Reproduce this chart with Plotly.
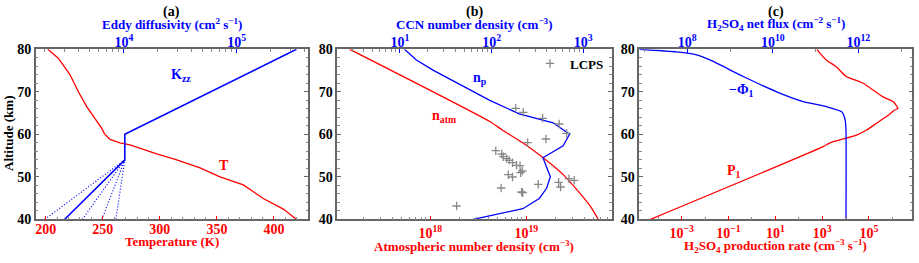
import plotly.graph_objects as go

# ---------------- Panel (a) ----------------
alt_T = [80, 77.9, 74.0, 70.0, 66.5, 63.8, 61.4, 60.1, 58.8, 58.0, 57.5, 55.4, 54.0, 52.1, 50.0, 48.1, 44.9, 42.4, 40.0]
temp_K = [201.8, 211, 221.3, 228.6, 235.9, 243.2, 249.1, 251.5, 256.3, 265, 273.8, 297.2, 314.8, 335.2, 352.7, 373.1, 390.6, 408.2, 419.5]

alt_kzz = [40, 54, 60, 80]
kzz_nominal = [3.0e3, 1.02e4, 1.02e4, 3.37e5]
alt_kzz_fan = [40, 54]
kzz_fan_bottom = [2.0e3, 4.3e3, 6.4e3, 8.5e3]
kzz_fan_top = 1.02e4

# ---------------- Panel (b) ----------------
alt_natm = [80, 63.0, 61.0, 57.9, 54.4, 50.4, 46.1, 43.0, 40.0]
n_atm = [1.445e17, 4.17e18, 5.62e18, 9.33e18, 1.51e19, 2.45e19, 3.63e19, 4.68e19, 5.62e19]

alt_np = [80, 77.5, 75.1, 68.0, 64.8, 62.7, 60.0, 57.3, 54.5, 50.0, 47.3, 44.9, 42.5, 40.0]
n_p = [11.2, 15.1, 22.9, 95.5, 200, 468, 708, 603, 363, 437, 398, 331, 219, 63.1]

alt_lcps = [66.12, 65.18, 63.76, 62.42, 60.24, 58.02, 58.89, 56.14, 55.36, 54.73, 54.26, 53.88, 53.32,
            52.71, 52.61, 51.36, 50.96, 50.49, 49.95, 47.36, 46.42, 46.26, 48.24, 48.71, 47.6, 49.55, 49.18, 43.13]
n_lcps = [183, 221, 360, 546, 658, 247, 391, 111, 129, 134, 146, 155, 169,
          187, 204, 216, 207, 152, 169, 127, 212, 218, 322, 538, 565, 697, 796, 41.5]

# ---------------- Panel (c) ----------------
alt_P1 = [40, 57.1, 58.0, 59.8, 61.0, 62.6, 64.5, 65.7, 66.1, 67.7, 68.8, 72.0, 73.6, 75.9, 77.5, 79.1, 80]
P1 = [4.68e-5, 1.10e3, 2.14e3, 2.95e4, 7.94e4, 2.09e5, 6.61e5, 1.26e6, 1.74e6, 1.07e6, 3.98e5,
      5.62e4, 1.07e4, 3.98e3, 1.51e3, 794, 603]

alt_phi = [80, 79.4, 78.7, 77.5, 73.6, 70.0, 67.7, 66.5, 65.3, 63.4, 61.0, 40]
phi1 = [7.6e6, 5.62e7, 1.66e8, 3.39e8, 2.04e9, 1.23e10, 5.13e10, 1.82e11, 4.07e11, 4.9e11, 5.13e11, 5.13e11]

# ---------------- Text ----------------
panel_titles = ["(a)", "(b)", "(c)"]
bottom_titles = ["Temperature (K)", "Atmospheric number density (cm<sup>−3</sup>)",
                 "H<sub>2</sub>SO<sub>4</sub> production rate (cm<sup>−3</sup> s<sup>−1</sup>)"]
top_titles = ["Eddy diffusivity (cm<sup>2</sup> s<sup>−1</sup>)", "CCN number density (cm<sup>−3</sup>)",
              "H<sub>2</sub>SO<sub>4</sub> net flux (cm<sup>−2</sup> s<sup>−1</sup>)"]

RED = "#ff0000"
BLUE = "#0000ff"
GRAY = "#888888"
FRAME = "#666666"
FONT = "Liberation Serif, Times New Roman, serif"

W, H = 919, 263
px = lambda x: x / W
py = lambda y: 1 - y / H
YDOM = [py(219.3), py(49.3)]
DOMS = [[35.7, 308], [337.3, 611.7], [639.3, 912.3]]
DOM_A, DOM_B, DOM_C = [[px(a), px(b)] for a, b in DOMS]
BOTTOM_TITLE_Y = [241, 246, 246]


def bfont(size, color):
    return dict(family=FONT, size=size, color=color, weight="bold")


def log_minor(lo, hi, subs=range(2, 10)):
    vals = []
    for e in range(lo, hi + 1):
        for s in subs:
            vals.append(s * 10.0 ** e)
    return vals


fig = go.Figure()

# Panel (a)
fig.add_trace(go.Scatter(x=temp_K, y=alt_T, mode="lines", line=dict(color=RED, width=1.3),
                         xaxis="x", yaxis="y", showlegend=False))
for v in kzz_fan_bottom:
    fig.add_trace(go.Scatter(x=[v, kzz_fan_top], y=alt_kzz_fan, mode="lines",
                             line=dict(color=BLUE, width=1.2, dash="1px,2px"),
                             xaxis="x2", yaxis="y", showlegend=False))
fig.add_trace(go.Scatter(x=kzz_nominal, y=alt_kzz, mode="lines", line=dict(color=BLUE, width=1.6),
                         xaxis="x2", yaxis="y", showlegend=False))

# Panel (b)
fig.add_trace(go.Scatter(x=n_atm, y=alt_natm, mode="lines", line=dict(color=RED, width=1.3, shape="spline", smoothing=0.6),
                         xaxis="x3", yaxis="y2", showlegend=False))
fig.add_trace(go.Scatter(x=n_p, y=alt_np, mode="lines", line=dict(color=BLUE, width=1.3),
                         xaxis="x4", yaxis="y2", showlegend=False))
fig.add_trace(go.Scatter(x=n_lcps, y=alt_lcps, mode="markers", name="LCPS",
                         marker=dict(symbol="cross-thin", size=6, line=dict(width=1.3, color=GRAY)),
                         xaxis="x4", yaxis="y2", showlegend=True))

# Panel (c)
fig.add_trace(go.Scatter(x=P1, y=alt_P1, mode="lines", line=dict(color=RED, width=1.3, shape="spline", smoothing=0.5),
                         xaxis="x5", yaxis="y3", showlegend=False))
fig.add_trace(go.Scatter(x=phi1, y=alt_phi, mode="lines", line=dict(color=BLUE, width=1.3, shape="spline", smoothing=0.5),
                         xaxis="x6", yaxis="y3", showlegend=False))


def bottom_axis(domain, anchor, rng, typ="linear", tickvals=None, ticktext=None, minor=None, standoff=-4):
    d = dict(domain=domain, anchor=anchor, range=rng, type=typ, side="bottom", automargin=False,
             showline=True, linecolor=FRAME, linewidth=1.5, mirror=True,
             ticks="inside", ticklen=4, tickcolor=RED, tickwidth=1, ticklabelstandoff=standoff,
             tickfont=bfont(14, RED), showgrid=False, zeroline=False)
    if tickvals is not None:
        d.update(tickmode="array", tickvals=tickvals)
    if ticktext is not None:
        d.update(ticktext=ticktext)
    if minor is not None:
        d.update(minor=minor)
    return d


def top_axis(overlay, anchor, rng, tickvals, ticktext, minorvals):
    return dict(overlaying=overlay, anchor=anchor, side="top", type="log", range=rng, automargin=False,
                showline=True, linecolor=FRAME, linewidth=1.5,
                ticks="inside", ticklen=4, tickcolor=BLUE, tickwidth=1, ticklabelstandoff=-5,
                tickmode="array", tickvals=tickvals, ticktext=ticktext,
                tickfont=bfont(14, BLUE), showgrid=False, zeroline=False,
                minor=dict(ticks="inside", ticklen=2.5, tickcolor=GRAY, tickmode="array", tickvals=minorvals, showgrid=False))


def y_axis(anchor):
    return dict(domain=YDOM, anchor=anchor, range=[40, 80], tickmode="array", tickvals=[40, 50, 60, 70, 80],
                automargin=False,
                showline=True, linecolor=FRAME, linewidth=1.5, mirror="ticks",
                ticks="inside", ticklen=4, tickcolor=FRAME, tickwidth=1,
                tickfont=bfont(14, "black"), showgrid=False, zeroline=False,
                minor=dict(ticks="inside", ticklen=2.5, tickcolor=GRAY, dtick=2, tick0=40, showgrid=False))


sup = lambda e: "10<sup>%s</sup>" % e

layout = dict(
    width=W, height=H, autosize=False,
    margin=dict(l=0, r=0, t=0, b=0, autoexpand=False),
    paper_bgcolor="white", plot_bgcolor="white",
    font=dict(family=FONT),
    xaxis=bottom_axis(DOM_A, "y", [191.2, 429.8], tickvals=[200, 250, 300, 350, 400],
                      minor=dict(ticks="inside", ticklen=2.5, tickcolor=GRAY, dtick=10, tick0=200, showgrid=False)),
    xaxis2=top_axis("x", "y", [3.22, 5.63], [1e4, 1e5], [sup(4), sup(5)], log_minor(3, 5)),
    xaxis3=bottom_axis(DOM_B, "y2", [17.03, 19.89], typ="log",
                       tickvals=[1e18, 1e19], ticktext=[sup(18), sup(19)],
                       minor=dict(ticks="inside", ticklen=2.5, tickcolor=GRAY, tickmode="array",
                                  tickvals=log_minor(17, 19), showgrid=False), standoff=0),
    xaxis4=top_axis("x3", "y2", [0.316, 3.31], [10, 100, 1000], [sup(1), sup(2), sup(3)], log_minor(0, 3)),
    xaxis5=bottom_axis(DOM_C, "y3", [-4.81, 6.85],
                       typ="log", tickvals=[1e-3, 1e-1, 1e1, 1e3, 1e5],
                       ticktext=[sup("−3"), sup("−1"), sup(1), sup(3), sup(5)],
                       minor=dict(ticks="inside", ticklen=2.5, tickcolor=GRAY, tickmode="array",
                                  tickvals=[10.0 ** e for e in range(-4, 7, 2)], showgrid=False), standoff=0),
    xaxis6=top_axis("x5", "y3", [6.88, 13.26], [1e8, 1e10, 1e12], [sup(8), sup(10), sup(12)],
                    [10.0 ** e for e in range(7, 14, 2)]),
    yaxis=y_axis("x"),
    yaxis2=y_axis("x3"),
    yaxis3=y_axis("x5"),
    showlegend=True,
    legend=dict(x=px(530), y=py(63.5), xanchor="left", yanchor="middle", bgcolor="rgba(0,0,0,0)",
                font=bfont(13, "black"), itemwidth=30, borderwidth=0),
)
fig.update_layout(**layout)


def note(text, x, y, font, **kw):
    fig.add_annotation(text=text, x=px(x), y=py(y), xref="paper", yref="paper",
                       showarrow=False, font=font, xanchor="center", yanchor="middle", **kw)


for i, (a, b) in enumerate(DOMS):
    cx = (a + b) / 2
    note(panel_titles[i], cx, 12, bfont(14, "black"))
    note(top_titles[i], cx, 24, bfont(13, BLUE))
    note(bottom_titles[i], cx, BOTTOM_TITLE_Y[i], bfont(13, RED))

note("Altitude (km)", 8, 134, bfont(13, "black"), textangle=-90)

labels = [
    ("K<sub>zz</sub>", 181, 75, BLUE), ("T", 224, 165, RED),
    ("n<sub>p</sub>", 480, 78, BLUE), ("n<sub>atm</sub>", 444, 116, RED),
    ("−Φ<sub>1</sub>", 741, 90, BLUE), ("P<sub>1</sub>", 734, 171, RED),
]
for text, x, y, c in labels:
    note(text, x, y, bfont(14, c))

fig.write_html("out.html", config={"displayModeBar": False},
               post_script="document.body.style.margin='0';document.body.style.overflow='hidden';")
